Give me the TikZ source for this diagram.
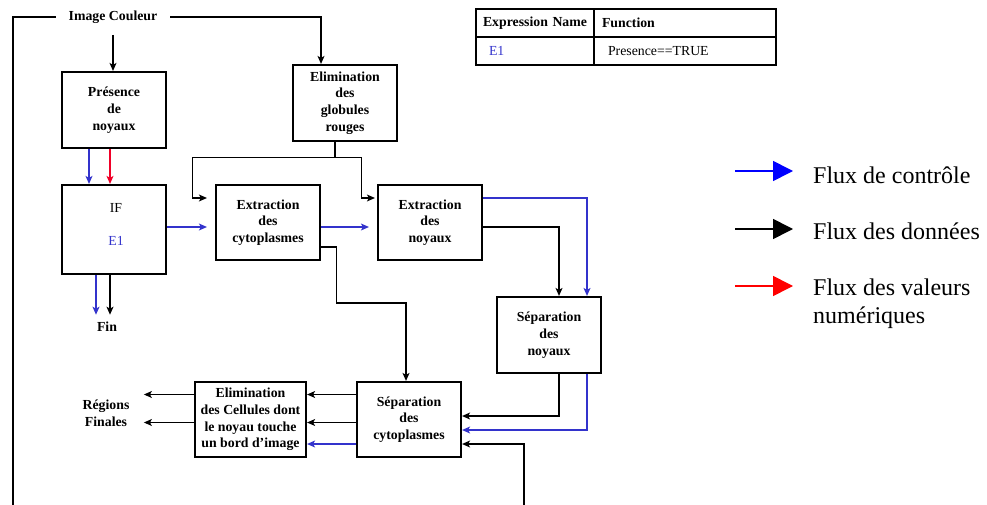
\documentclass[tikz,border=0pt]{standalone}
\usepackage{fontspec}
\setmainfont{Liberation Serif}
\usetikzlibrary{arrows.meta,calc}
\definecolor{cblue}{RGB}{51,51,204}
\definecolor{cred}{RGB}{240,0,40}
\begin{document}
\begin{tikzpicture}[x=1pt,y=-1pt,
 txt/.style={font=\fontsize{13.8}{16.7}\selectfont},
 btxt/.style={font=\fontsize{13.8}{16.7}\selectfont\bfseries},
 box/.style={draw, line width=2.2pt, minimum width=104pt, minimum height=75pt, inner sep=1pt, align=center, btxt},
 arr/.style={line width=1.1pt, -{Stealth[length=8pt,width=7pt,inset=2pt]}},
 ln/.style={line width=1.1pt},
 leg/.style={line width=1.6pt, -{Triangle[length=20pt,width=20pt]}},
 legtxt/.style={font=\fontsize{24}{28}\selectfont, anchor=base west, align=left, inner sep=0pt},
 cell/.style={draw, line width=2pt, anchor=north west, outer sep=0pt, inner ysep=0pt, inner xsep=3pt, align=left, txt}
]
\useasboundingbox (0,0) rectangle (987,505);

% nodes
\node[btxt, inner xsep=13pt] (ic) at (113,17) {Image Couleur};
\node[box, minimum height=76pt] (pres) at (114,110) {Présence\\de\\noyaux};
\node[box, minimum height=89pt] (if) at (114,229.5) {};
\node[txt] (ift) at (116,208) {IF};
\node[txt, text=cblue] (e1) at (116,241) {E1};
\node[btxt] (fin) at (107,327) {Fin};
\node[box, minimum height=76pt] (egr) at (345,103) {Elimination\\des\\globules\\rouges};
\node[box] (ec) at (268,222.5) {Extraction\\des\\cytoplasmes};
\node[box] (en) at (430,222.5) {Extraction\\des\\noyaux};
\node[box, minimum height=76pt] (sn) at (549,335) {Séparation\\des\\noyaux};
\node[box] (sc) at (409,419.5) {Séparation\\des\\cytoplasmes};
\node[box, minimum width=111pt] (el) at (250.5,419.5) {Elimination\\des Cellules dont\\le noyau touche\\un bord d’image};
\node[btxt, align=center] (reg) at (106,413) {Régions\\Finales};

\coordinate (bl) at (13,505);
\coordinate (bin) at (524,505);

% connectors
\draw[ln] (ic.west) -| (bl);
\draw[arr] (ic.east) -| ([xshift=-24pt]egr.north);
\draw[arr, shorten <=8pt] (ic.south) -- (ic.south |- pres.north);
\draw[arr,cblue] ([xshift=-25pt]pres.south) -- ([xshift=-25pt]if.north);
\draw[arr,cred] ([xshift=-4pt]pres.south) -- ([xshift=-4pt]if.north);
\draw[arr,cblue, shorten >=4pt] ([xshift=-18pt]if.south) -- ([xshift=-18pt]if.south |- fin.north);
\draw[arr, shorten >=4pt] ([xshift=-4pt]if.south) -- ([xshift=-4pt]if.south |- fin.north);
\draw[arr,cblue,shorten >=8pt] ([yshift=-4.5pt]ec.west -| if.east) -- ([yshift=-4.5pt]ec.west);
\coordinate (j) at ([xshift=-10pt,yshift=-15pt]egr.south);
\draw[ln] ([xshift=-10pt]egr.south) -- (j);
\draw[arr,shorten >=8pt] (j) -| ([xshift=-22pt,yshift=24.5pt]ec.west) -- ([yshift=24.5pt]ec.west);
\draw[arr,shorten >=2pt] (j) -| ([xshift=-15pt,yshift=24.5pt]en.west) -- ([yshift=24.5pt]en.west);
\draw[arr,cblue,shorten >=8pt] ([yshift=-4.5pt]ec.east) -- ([yshift=-4.5pt]en.west);
\draw[arr] ([yshift=-24.5pt]ec.east) -- ++(15,0) -- ++(0,56) -| ([xshift=-3pt]sc.north);
\draw[arr,cblue] ([yshift=24.5pt]en.east) -| ([xshift=38pt]sn.north);
\draw[arr] ([yshift=-4.5pt]en.east) -| ([xshift=10pt]sn.north);
\draw[arr] ([xshift=10pt]sn.south) |- ([yshift=3.5pt]sc.east);
\draw[arr,cblue] ([xshift=38pt]sn.south) |- ([yshift=-10.5pt]sc.east);
\draw[arr] (bin) |- ([yshift=-24.5pt]sc.east);
\draw[arr] ([yshift=25pt]sc.west) -- ([yshift=25pt]el.east);
\draw[arr] ([yshift=-3pt]sc.west) -- ([yshift=-3pt]el.east);
\draw[arr,cblue] ([yshift=-24.5pt]sc.west) -- ([yshift=-24.5pt]el.east);
\draw[arr,shorten >=11pt] ([yshift=25pt]el.west) -- ([yshift=25pt]el.west -| reg.east);
\draw[arr,shorten >=11pt] ([yshift=-3pt]el.west) -- ([yshift=-3pt]el.west -| reg.east);

% table
\node[cell, btxt, minimum width=118pt, minimum height=28.5pt, text width=112pt] (t11) at (476,9) {\hspace*{4pt}Expression Name};
\node[cell, btxt, minimum width=182pt, minimum height=28.5pt, text width=176pt] (t12) at (t11.north east) {\hspace*{5pt}Function};
\node[cell, text=cblue, minimum width=118pt, minimum height=27.5pt, text width=112pt] (t21) at (t11.south west) {\hspace*{10pt}E1};
\node[cell, minimum width=182pt, minimum height=27.5pt, text width=176pt] (t22) at (t21.north east) {\hspace*{11pt}Presence==TRUE};

% legend
\coordinate (l1) at (735,171);
\coordinate (l2) at (735,229);
\coordinate (l3) at (735,286);
\coordinate (l1e) at (793,171);
\coordinate (l2e) at (793,229);
\coordinate (l3e) at (793,286);
\draw[leg,blue] (l1) -- (l1e);
\draw[leg,black] (l2) -- (l2e);
\draw[leg,red] (l3) -- (l3e);
\node[legtxt] (lt1) at (813,183) {Flux de contrôle};
\node[legtxt] (lt2) at (813,239) {Flux des données};
\node[legtxt] (lt3) at (813,323) {Flux des valeurs\\numériques};
\end{tikzpicture}
\end{document}
